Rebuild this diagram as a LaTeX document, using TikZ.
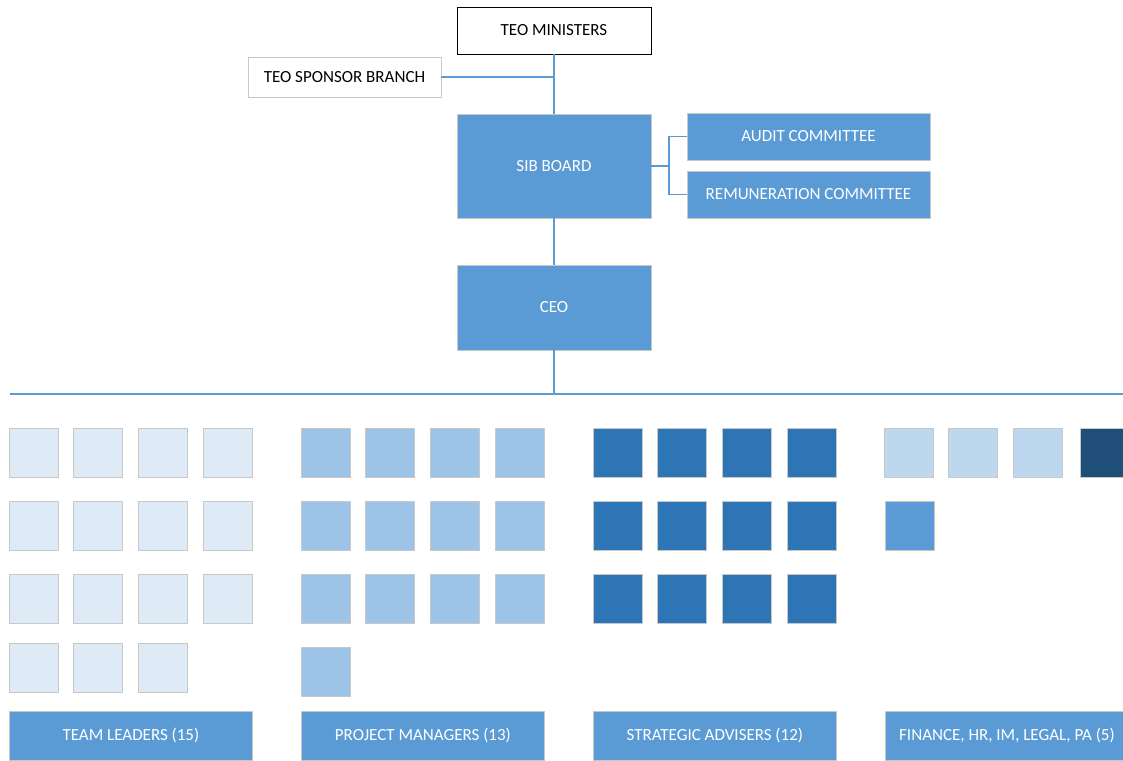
\documentclass[tikz,border=0pt]{standalone}
\usepackage{fontspec}
\setmainfont{Carlito}
\usetikzlibrary{positioning}
\definecolor{boxblue}{HTML}{5B9BD5}
\definecolor{paleblue}{HTML}{DEEAF6}
\definecolor{softblue}{HTML}{9DC3E6}
\definecolor{deepblue}{HTML}{2E75B6}
\definecolor{lightblue}{HTML}{BDD7EE}
\definecolor{navyblue}{HTML}{1F4E79}
\definecolor{edgegray}{HTML}{C8C8C8}

\begin{document}
\begin{tikzpicture}[
  x=1pt, y=-1pt,
  every node/.style={font=\fontsize{17}{19}\selectfont},
  topbox/.style={rectangle, draw=black, fill=white, line width=0.8pt,
                 minimum width=194pt, minimum height=47pt, text=black},
  sidebox/.style={rectangle, draw=edgegray, fill=white, line width=0.8pt,
                  minimum width=193pt, minimum height=40pt, text=black},
  unit/.style={rectangle, draw=edgegray, fill=boxblue, line width=0.8pt,
               minimum width=194pt, text=white},
  cttee/.style={rectangle, draw=edgegray, fill=boxblue, line width=0.8pt,
                minimum width=243pt, minimum height=47pt, text=white},
  staff/.style={rectangle, draw=edgegray, line width=0.8pt,
                minimum width=49pt, minimum height=49pt, inner sep=0pt},
  team/.style={rectangle, draw=edgegray, fill=boxblue, line width=0.8pt,
               minimum width=243pt, minimum height=49pt, text=white, anchor=north west},
  conn/.style={draw=boxblue, line width=1.3pt},
]
\useasboundingbox (0,0) rectangle (1123,760);

% governance
\node[topbox] (ministers) at (554,30.5) {TEO MINISTERS};
\node[sidebox] (sponsor) at (344.5,77) {TEO SPONSOR BRANCH};
\node[unit, minimum height=104pt] (board) at (554,166) {SIB BOARD};
\node[cttee] (audit) at (808.5,136.5) {AUDIT COMMITTEE};
\node[cttee] (remun) at (808.5,194.5) {REMUNERATION COMMITTEE};
\node[unit, minimum height=85pt] (ceo) at (554,307.5) {CEO};

\coordinate (split) at (669,166);
\coordinate (barL) at (10,394);
\coordinate (barR) at (1130,394);

\draw[conn] (ministers) -- (board);
\draw[conn] (sponsor.east) -- (sponsor.east -| ministers.south);
\draw[conn] (board.east) -- (split);
\draw[conn] (audit.west) -| (split);
\draw[conn] (remun.west) -| (split);
\draw[conn] (board) -- (ceo);
\draw[conn] (ceo.south) -- (ceo.south |- barL);
\draw[conn] (barL) -- (barR);

% staff squares
\foreach \c in {0,...,3}{
  \foreach \r in {0,1,2}{
    \node[staff, fill=paleblue] (tl-\r-\c) at ({33.5+64.7*\c},{452.5+73*\r}) {};
    \node[staff, fill=softblue] (pm-\r-\c) at ({325.5+64.7*\c},{452.5+73*\r}) {};
    \node[staff, fill=deepblue] (sa-\r-\c) at ({617.5+64.7*\c},{452.5+73*\r}) {};
  }
}
\foreach \c in {0,1,2}{
  \node[staff, fill=paleblue] (tl-3-\c) at ({33.5+64.7*\c},667.5) {};
  \node[staff, fill=lightblue] (fn-0-\c) at ({908.5+64.7*\c},452.5) {};
}
\node[staff, fill=softblue] (pm-3-0) at (325.5,671.5) {};
\node[staff, fill=navyblue] (fn-0-3) at (1104.5,452.5) {};
\node[staff, fill=boxblue] (fn-1-0) at (909.5,525.5) {};

% team labels
\node[team] (leaders) at (9,711) {TEAM LEADERS (15)};
\node[team] (managers) at (301,711) {PROJECT MANAGERS (13)};
\node[team] (advisers) at (593,711) {STRATEGIC ADVISERS (12)};
\node[team] (support) at (885,711) {FINANCE, HR, IM, LEGAL, PA (5)};
\end{tikzpicture}
\end{document}
